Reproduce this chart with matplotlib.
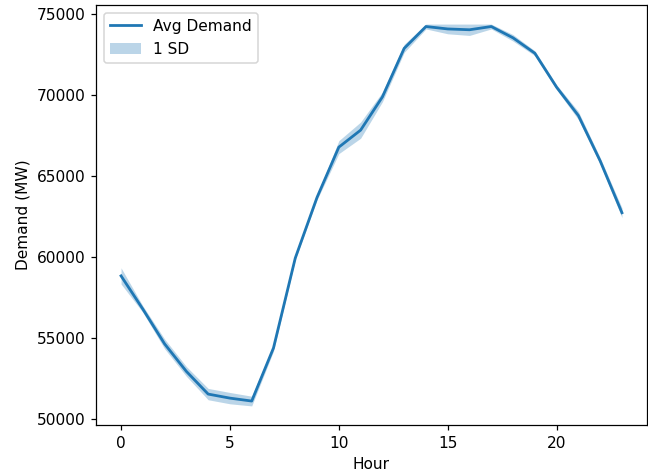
import numpy as np
import matplotlib.pyplot as plt

# average demand per hour and its standard deviation
hours = list(range(24))
avg_demand = [58850, 56800, 54650, 52950, 51550, 51300, 51120, 54400,
              59950, 63700, 66800, 67850, 69900, 72900, 74250, 74100,
              74050, 74250, 73550, 72600, 70500, 68750, 65950, 62750]
sd_demand = [500, 200, 300, 300, 350, 350, 300, 200,
             100, 150, 400, 500, 300, 250, 150, 300,
             350, 150, 200, 150, 150, 250, 200, 300]

avg = np.array(avg_demand)
sd = np.array(sd_demand)

dpi = 111
fig, ax = plt.subplots(figsize=(648 / dpi, 475 / dpi), dpi=dpi)
fig.subplots_adjust(left=96 / 648, right=647 / 648, top=1 - 5 / 475, bottom=1 - 425 / 475)

ax.plot(hours, avg, color='C0', lw=1.8, label='Avg Demand')
ax.fill_between(hours, avg - sd, avg + sd, color='C0', alpha=0.3,
                lw=0, label='1 SD')

ax.set_xlabel('Hour')
ax.set_ylabel('Demand (MW)')
ax.legend(loc='upper left')

plt.savefig('out.png', dpi=dpi)
